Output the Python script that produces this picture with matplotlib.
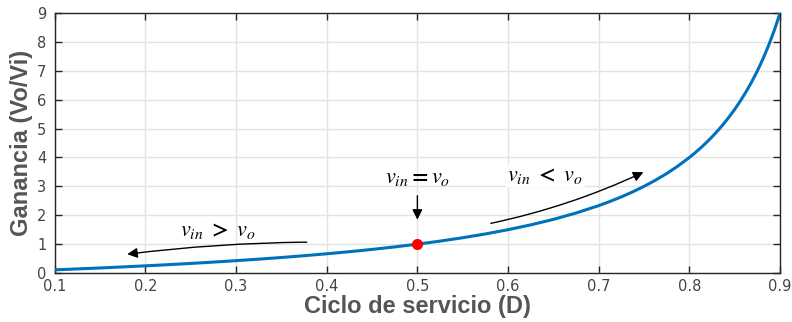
import matplotlib
matplotlib.use("Agg")
import matplotlib.pyplot as plt

# ===== DATA: ganancia del convertidor vs ciclo de servicio =====
duty = [0.100, 0.125, 0.150, 0.175, 0.200, 0.225, 0.250, 0.275, 0.300,
        0.325, 0.350, 0.375, 0.400, 0.425, 0.450, 0.475, 0.500, 0.525,
        0.550, 0.575, 0.600, 0.625, 0.650, 0.675, 0.700, 0.7125, 0.725,
        0.7375, 0.750, 0.7625, 0.775, 0.7875, 0.800, 0.80625, 0.8125,
        0.81875, 0.825, 0.83125, 0.8375, 0.84375, 0.850, 0.85625, 0.8625,
        0.86875, 0.875, 0.88125, 0.8875, 0.89375, 0.900]
gain = [0.111, 0.143, 0.176, 0.212, 0.250, 0.290, 0.333, 0.379, 0.429,
        0.481, 0.538, 0.600, 0.667, 0.739, 0.818, 0.905, 1.000, 1.105,
        1.222, 1.353, 1.500, 1.667, 1.857, 2.077, 2.333, 2.478, 2.636,
        2.810, 3.000, 3.211, 3.444, 3.706, 4.000, 4.161, 4.333,
        4.517, 4.714, 4.926, 5.154, 5.400, 5.667, 5.957, 6.273,
        6.619, 7.000, 7.421, 7.889, 8.412, 9.000]

point_d = 0.5
point_g = 1.0

x_ticks = [0.1, 0.2, 0.3, 0.4, 0.5, 0.6, 0.7, 0.8, 0.9]
x_labels = ["0.1", "0.2", "0.3", "0.4", "0.5", "0.6", "0.7", "0.8", "0.9"]
y_ticks = [0, 1, 2, 3, 4, 5, 6, 7, 8, 9]

plt.rcParams['mathtext.fontset'] = 'stix'

fig = plt.figure(figsize=(7.92, 3.22), dpi=100)
ax = fig.add_axes([0.069, 0.152, 0.916, 0.808])

ax.plot(duty, gain, color='#0072BD', lw=2.2, zorder=3)
ax.plot(point_d, point_g, 'o', color='#FF0000', ms=7, zorder=4)

ax.set_xlim(0.1, 0.9)
ax.set_ylim(0, 9)
ax.set_xticks(x_ticks)
ax.set_xticklabels(x_labels)
ax.set_yticks(y_ticks)

ax.grid(True, color='#e3e3e3', lw=1.0)
ax.set_axisbelow(True)
ax.tick_params(direction='in', top=True, right=True, length=5,
               width=1.0, color='#262626', labelsize=10.5,
               labelcolor='#444444')
ax.tick_params(axis='x', pad=4)
ax.tick_params(axis='y', pad=6)
for s in ax.spines.values():
    s.set_color('#262626')
    s.set_linewidth(1.0)

lab_font = dict(family='Liberation Sans', weight='bold', size=17,
                color='#555555')
ax.set_xlabel("Ciclo de servicio (D)", labelpad=1, **lab_font)
ax.set_ylabel("Ganancia (Vo/Vi)", labelpad=3, **lab_font)

# ===== ANOTACIONES =====
txt = dict(fontsize=16, color='black', ha='center', va='center')
ax.text(0.28, 1.45, r'$v_{in}\ \mathbf{>}\ v_o$', **txt)
ax.text(0.5, 3.3, r'$v_{in}\mathbf{=}v_o$', **txt)
ax.text(0.641, 3.36, r'$v_{in}\ \mathbf{<}\ v_o$',
        bbox=dict(facecolor='white', edgecolor='none', pad=1), **txt)

arrow = dict(arrowstyle='-|>', color='black', lw=1.0, mutation_scale=15)
ax.annotate('', xy=(0.177, 0.64), xytext=(0.381, 1.07),
            arrowprops=dict(connectionstyle='arc3,rad=0.03', **arrow))
ax.annotate('', xy=(0.752, 3.53), xytext=(0.578, 1.70),
            arrowprops=dict(connectionstyle='arc3,rad=0.06', **arrow))
ax.annotate('', xy=(0.5, 1.75), xytext=(0.5, 2.77),
            arrowprops=arrow)

plt.savefig("out.png", dpi=100)
